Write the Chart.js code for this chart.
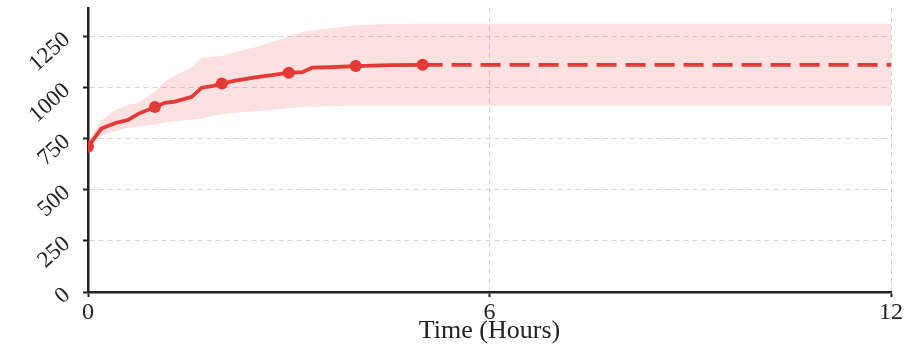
<!DOCTYPE html>
<html>
<head>
<meta charset="utf-8">
<script src="https://cdn.jsdelivr.net/npm/chart.js@4"></script>
<style>
  body { margin: 0; background: #fff; }
</style>
</head>
<body>
<canvas id="myChart" width="910" height="348"></canvas>
<script>
// observed part (hours) and the mean with its band
const hours = [0, 0.2, 0.4, 0.6, 0.75, 1, 1.15, 1.3, 1.55, 1.7, 1.85, 2, 2.2, 2.5, 2.8, 3, 3.2, 3.35, 3.6, 4, 4.5, 5];
const meanValues = [711, 800, 826, 842, 872, 905, 926, 932, 955, 1000, 1007, 1020, 1034, 1050, 1064, 1073, 1076, 1098, 1100, 1106, 1110, 1112];
const bandHours = [0, 0.2, 0.4, 0.6, 0.75, 1, 1.15, 1.3, 1.55, 1.7, 1.85, 2, 2.2, 2.5, 2.8, 3, 3.2, 3.35, 3.6, 4, 4.5, 5, 12];
const upperValues = [735, 840, 890, 915, 926, 980, 1030, 1060, 1100, 1147, 1150, 1155, 1176, 1198, 1230, 1250, 1272, 1280, 1290, 1305, 1312, 1313, 1313];
const lowerValues = [690, 765, 785, 804, 810, 820, 830, 836, 843, 850, 860, 870, 877, 885, 893, 900, 906, 908, 910, 912, 912, 912, 912];
// projection after the last observation
const forecastHours = [5, 12];
const forecastValues = [1112, 1112];
const markerHours = [0, 1, 2, 3, 4, 5];
const xTicks = [0, 6, 12];
const yTicks = [0, 250, 500, 750, 1000, 1250];

const toPoints = (xs, ys) => xs.map((x, i) => ({ x: x, y: ys[i] }));

const red = 'rgb(229, 57, 53)';
const band = 'rgba(244, 90, 90, 0.18)';
const gridColor = '#d2d2d2';
const axisColor = '#222';
const serif = '"Liberation Serif", "Times New Roman", serif';

const ctx = document.getElementById('myChart');
new Chart(ctx, {
    type: 'line',
    data: {
        datasets: [
            {
                data: toPoints(hours, meanValues),
                borderColor: red,
                backgroundColor: red,
                borderWidth: 3.8,
                pointRadius: c => markerHours.includes(hours[c.dataIndex]) ? 6 : 0,
                pointBorderWidth: 0,
                tension: 0,
                fill: false,
                order: 0
            },
            {
                data: toPoints(forecastHours, forecastValues),
                borderColor: red,
                borderWidth: 3.8,
                borderDash: [20, 9],
                pointRadius: 0,
                fill: false,
                order: 1
            },
            {
                data: toPoints(bandHours, upperValues),
                borderWidth: 0,
                pointRadius: 0,
                backgroundColor: band,
                fill: '+1',
                order: 2
            },
            {
                data: toPoints(bandHours, lowerValues),
                borderWidth: 0,
                pointRadius: 0,
                fill: false,
                order: 3
            }
        ]
    },
    options: {
        responsive: false,
        animation: false,
        layout: { autoPadding: false, padding: { top: 8, right: 19, left: 0, bottom: 0 } },
        plugins: {
            legend: { display: false },
            tooltip: { enabled: false }
        },
        scales: {
            x: {
                type: 'linear',
                min: 0,
                max: 12,
                afterBuildTicks: s => { s.ticks = xTicks.map(v => ({ value: v })); },
                afterFit: s => { s.height = 56; s.paddingLeft = 0; s.paddingRight = 0; },
                ticks: {
                    color: axisColor,
                    font: { family: serif, size: 24 },
                    padding: 1,
                    maxRotation: 0
                },
                grid: {
                    color: c => (c.tick && c.tick.value === 0) ? 'rgba(0,0,0,0)' : gridColor,
                    tickColor: axisColor,
                    tickLength: 5,
                    tickWidth: 2,
                    tickBorderDash: []
                },
                border: { color: axisColor, width: 2.5, dash: [5, 4] },
                title: {
                    display: true,
                    text: 'Time (Hours)',
                    color: axisColor,
                    font: { family: serif, size: 26 },
                    padding: { top: 0, bottom: 1 }
                }
            },
            y: {
                min: 0,
                max: 1390,
                afterBuildTicks: s => { s.ticks = yTicks.map(v => ({ value: v })); },
                afterFit: s => { s.width = 88; s.paddingTop = 0; s.paddingBottom = 0; },
                ticks: {
                    color: axisColor,
                    font: { family: serif, size: 23 },
                    minRotation: 42,
                    maxRotation: 42,
                    padding: 16,
                    callback: v => String(v)
                },
                grid: {
                    color: gridColor,
                    tickColor: axisColor,
                    tickLength: 5,
                    tickWidth: 2,
                    tickBorderDash: []
                },
                border: { color: axisColor, width: 2.5, dash: [5, 4] }
            }
        }
    }
});
</script>
</body>
</html>
